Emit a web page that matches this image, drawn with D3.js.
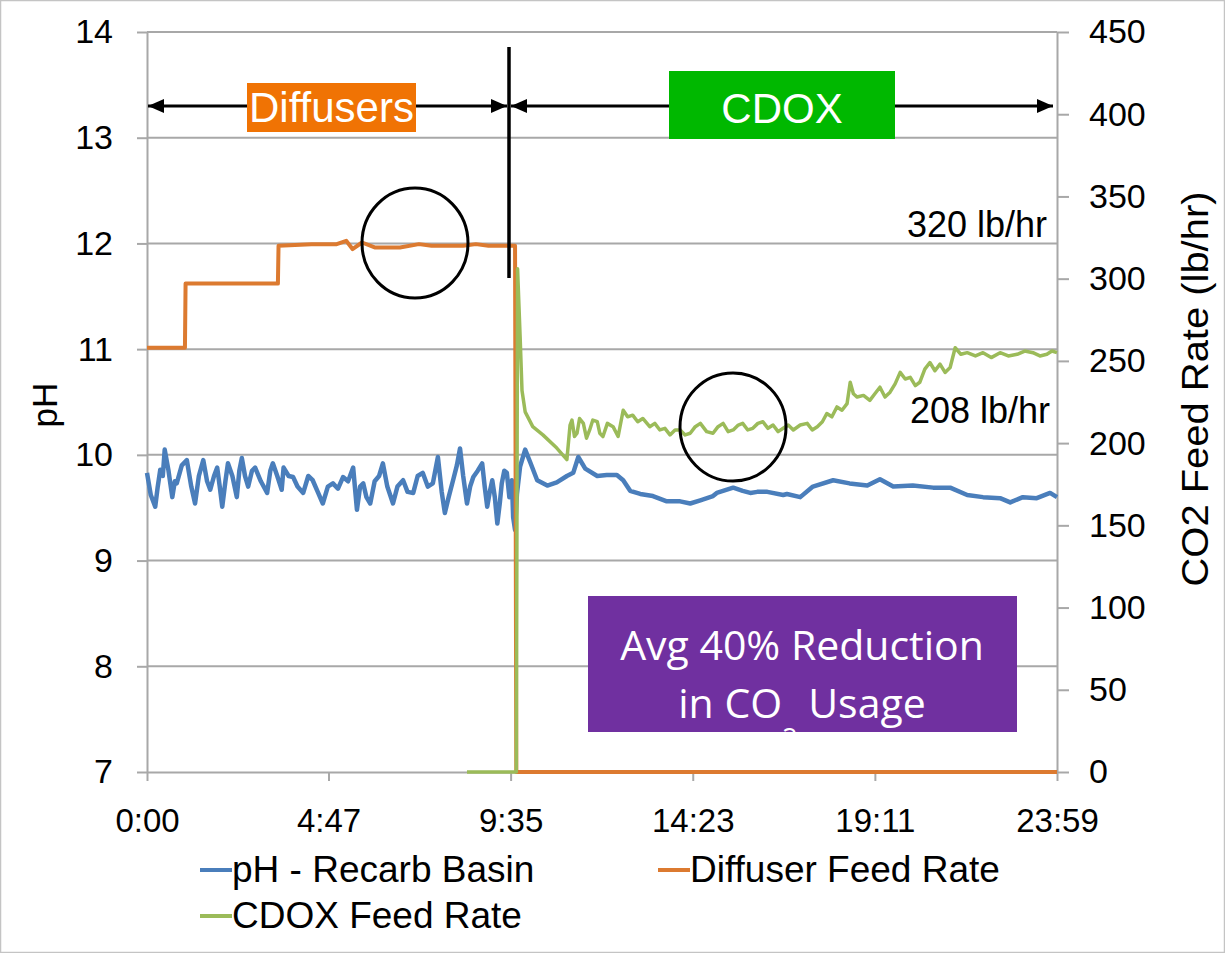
<!DOCTYPE html>
<html>
<head>
<meta charset="utf-8">
<script src="https://cdn.jsdelivr.net/npm/d3@7/dist/d3.min.js"></script>
<style>
  html, body { margin: 0; padding: 0; background: #fff; }
  svg { display: block; }
</style>
</head>
<body>
<script>
// time is minutes since midnight
const xTickLabels = ["0:00", "4:47", "9:35", "14:23", "19:11", "23:59"];
const phTicks = [7, 8, 9, 10, 11, 12, 13, 14];
const feedTicks = [0, 50, 100, 150, 200, 250, 300, 350, 400, 450];

const seriesNames = ["pH - Recarb Basin", "Diffuser Feed Rate", "CDOX Feed Rate"];

// pH - Recarb Basin (left axis)
const phSeries = [
  [0,9.83],[6,9.62],[13,9.51],[17,9.7],[21,9.86],[25,9.8],[28,10.05],[34,9.85],[40,9.6],[44,9.75],
  [47,9.73],[55,9.9],[63,9.95],[70,9.7],[76,9.54],[82,9.8],[89,9.95],[95,9.75],[100,9.67],[106,9.8],
  [111,9.88],[115,9.7],[119,9.51],[124,9.75],[128,9.92],[135,9.8],[142,9.6],[146,9.85],[150,9.97],[155,9.8],
  [160,9.7],[166,9.85],[171,9.88],[180,9.75],[190,9.64],[195,9.85],[199,9.92],[206,9.8],[213,9.67],[216,9.88],
  [224,9.8],[231,9.79],[238,9.7],[247,9.64],[255,9.8],[262,9.76],[270,9.65],[278,9.54],[286,9.7],[294,9.73],
  [302,9.68],[310,9.79],[318,9.75],[326,9.88],[332,9.48],[337,9.7],[342,9.73],[347,9.6],[353,9.54],[360,9.75],
  [367,9.8],[373,9.92],[380,9.7],[389,9.54],[396,9.7],[405,9.76],[412,9.65],[421,9.64],[428,9.8],[436,9.83],
  [444,9.7],[452,9.73],[460,9.98],[466,9.65],[471,9.45],[477,9.6],[484,9.76],[490,9.9],[495,10.06],[500,9.8],
  [506,9.54],[511,9.7],[516,9.79],[523,9.85],[530,9.92],[534,9.7],[538,9.51],[542,9.65],[546,9.76],[550,9.6],
  [554,9.35],[558,9.55],[561,9.73],[565,9.85],[569,9.83],[573,9.6],[577,9.76],[579,9.41],[582,9.29],[585,9.63],
  [590,9.89],[598,10.05],[606,9.93],[617,9.76],[633,9.71],[648,9.74],[664,9.8],[674,9.83],[682,9.98],[693,9.87],
  [712,9.8],[727,9.81],[743,9.81],[753,9.76],[764,9.66],[780,9.63],[800,9.61],[822,9.56],[843,9.56],[859,9.54],
  [875,9.57],[895,9.61],[901,9.64],[922,9.68],[927,9.69],[942,9.66],[954,9.64],[965,9.65],[981,9.65],[1006,9.62],
  [1012,9.63],[1033,9.6],[1053,9.7],[1085,9.76],[1111,9.73],[1139,9.71],[1159,9.77],[1180,9.7],[1211,9.71],[1243,9.69],
  [1270,9.69],[1297,9.62],[1322,9.6],[1349,9.59],[1365,9.55],[1385,9.6],[1407,9.59],[1428,9.64],[1439,9.6]
];

// Diffuser Feed Rate, lb/hr (right axis)
const diffuserSeries = [
  [0,258],[60,258],[61,297],[207,297],[208,320],[260,321],[300,321],[315,323],[325,318],[340,322],
  [360,319],[400,319],[430,321],[450,320],[500,320],[520,321],[540,320],[582,320],[584,0],[1439,0]
];

// CDOX Feed Rate, lb/hr (right axis)
const cdoxSeries = [
  [506,0],[584,0],[586,306],[590,265],[593,232],[598,219],[610,210],[626,205],[648,197],[664,190],
  [669,211],[672,214],[676,204],[680,206],[684,215],[690,212],[695,203],[700,208],[705,214],[712,213],
  [716,206],[721,204],[728,212],[737,210],[745,204],[753,220],[760,216],[768,217],[776,213],[784,215],
  [795,210],[803,212],[811,208],[819,209],[827,205],[835,208],[843,208],[851,205],[859,206],[867,210],
  [875,212],[885,207],[895,206],[903,210],[911,212],[919,207],[927,208],[935,211],[942,212],[950,208],
  [958,209],[966,212],[974,213],[982,209],[990,211],[998,207],[1006,209],[1014,211],[1022,208],[1033,211],
  [1044,212],[1052,208],[1060,210],[1068,213],[1075,218],[1083,216],[1091,222],[1099,220],[1107,224],[1112,237],
  [1117,230],[1123,228],[1133,229],[1143,226],[1151,230],[1159,234],[1167,228],[1175,231],[1183,236],[1191,243],
  [1199,239],[1207,240],[1215,235],[1222,237],[1230,245],[1238,249],[1246,244],[1254,248],[1262,243],[1270,246],
  [1278,258],[1287,254],[1297,255],[1310,253],[1322,255],[1335,252],[1349,255],[1362,253],[1376,254],[1388,256],
  [1401,255],[1412,253],[1423,254],[1431,256],[1439,255]
];

const W = 1225, H = 953;
const plot = { left: 147, right: 1057, top: 32, bottom: 772 };
const font = "'Liberation Sans', Arial, Helvetica, sans-serif";
const colors = { ph: "#4A7EBB", diffuser: "#DC7A30", cdox: "#9BBB59", grid: "#A8A8A8" };

const parseClock = s => { const p = s.split(":"); return +p[0] * 60 + +p[1]; };

const x = d3.scaleLinear().domain([0, 1439]).range([plot.left, plot.right]);
const yPh = d3.scaleLinear().domain([7, 14]).range([plot.bottom, plot.top]);
const yFeed = d3.scaleLinear().domain([0, 450]).range([plot.bottom, plot.top]);

const svg = d3.select("body").append("svg")
  .attr("width", W).attr("height", H)
  .attr("font-family", font);

svg.append("rect").attr("x", 0.5).attr("y", 0.5)
  .attr("width", W - 1).attr("height", H - 1)
  .attr("fill", "#fff").attr("stroke", "#C4C4C4").attr("stroke-width", 1.5);

const defs = svg.append("defs");
defs.append("marker")
  .attr("id", "head").attr("markerUnits", "userSpaceOnUse")
  .attr("viewBox", "0 0 16 14").attr("refX", 16).attr("refY", 7)
  .attr("markerWidth", 16).attr("markerHeight", 14).attr("orient", "auto-start-reverse")
  .append("path").attr("d", "M0,0L16,7L0,14Z").attr("fill", "#000");

// gridlines
svg.append("g").selectAll("line")
  .data(phTicks.slice(1))
  .join("line")
  .attr("x1", plot.left).attr("x2", plot.right)
  .attr("y1", d => yPh(d)).attr("y2", d => yPh(d))
  .attr("stroke", colors.grid).attr("stroke-width", 2);

function styleAxis(g, size) {
  g.select(".domain").attr("stroke", colors.grid).attr("stroke-width", 2);
  g.selectAll(".tick line").attr("stroke", colors.grid).attr("stroke-width", 2);
  g.selectAll(".tick text").attr("fill", "#000").attr("font-size", size).attr("font-family", font);
}

svg.append("g")
  .attr("transform", `translate(${plot.left},0)`)
  .call(d3.axisLeft(yPh).tickValues(phTicks).tickSize(10).tickPadding(24).tickSizeOuter(0).tickFormat(d3.format("d")))
  .call(g => styleAxis(g, 34));

svg.append("g")
  .attr("transform", `translate(${plot.right},0)`)
  .call(d3.axisRight(yFeed).tickValues(feedTicks).tickSize(12).tickPadding(20).tickSizeOuter(0))
  .call(g => styleAxis(g, 34));

svg.append("g")
  .attr("transform", `translate(0,${plot.bottom})`)
  .call(d3.axisBottom(x).tickValues(xTickLabels.map(parseClock)).tickSize(9).tickPadding(28).tickSizeOuter(0)
    .tickFormat((d, i) => xTickLabels[i]))
  .call(g => styleAxis(g, 33));

svg.append("text")
  .attr("transform", "translate(57,405) rotate(-90)")
  .attr("text-anchor", "middle").attr("font-size", 35).text("pH");

svg.append("text")
  .attr("transform", "translate(1208,389) rotate(-90)")
  .attr("text-anchor", "middle").attr("font-size", 36)
  .attr("textLength", 395).attr("lengthAdjust", "spacingAndGlyphs")
  .text("CO2 Feed Rate (lb/hr)");

// series
const linePh = d3.line().x(d => x(d[0])).y(d => yPh(d[1]));
const lineFeed = d3.line().x(d => x(d[0])).y(d => yFeed(d[1]));

svg.append("path").datum(phSeries)
  .attr("fill", "none").attr("stroke", colors.ph).attr("stroke-width", 4.5)
  .attr("stroke-linejoin", "round").attr("d", linePh);
svg.append("path").datum(diffuserSeries)
  .attr("fill", "none").attr("stroke", colors.diffuser).attr("stroke-width", 4)
  .attr("stroke-linejoin", "round").attr("d", lineFeed);
svg.append("path").datum(cdoxSeries)
  .attr("fill", "none").attr("stroke", colors.cdox).attr("stroke-width", 3.5)
  .attr("stroke-linejoin", "round").attr("d", lineFeed);

// legend
const legend = [
  { name: seriesNames[0], color: colors.ph, x: 200, y: 882 },
  { name: seriesNames[1], color: colors.diffuser, x: 658, y: 882 },
  { name: seriesNames[2], color: colors.cdox, x: 200, y: 928 }
];
const lg = svg.append("g").selectAll("g").data(legend).join("g")
  .attr("transform", d => `translate(${d.x},${d.y})`);
lg.append("line").attr("x1", 0).attr("x2", 32).attr("y1", -12).attr("y2", -12)
  .attr("stroke", d => d.color).attr("stroke-width", 4);
lg.append("text").attr("x", 32).attr("font-size", 37).attr("fill", "#000").text(d => d.name);

// annotations
const arrowY = 106;
svg.append("line").attr("x1", 148).attr("x2", 507).attr("y1", arrowY).attr("y2", arrowY)
  .attr("stroke", "#000").attr("stroke-width", 3)
  .attr("marker-start", "url(#head)").attr("marker-end", "url(#head)");
svg.append("line").attr("x1", 511).attr("x2", 1053).attr("y1", arrowY).attr("y2", arrowY)
  .attr("stroke", "#000").attr("stroke-width", 3)
  .attr("marker-start", "url(#head)").attr("marker-end", "url(#head)");
svg.append("line").attr("x1", 509).attr("x2", 509).attr("y1", 47).attr("y2", 278)
  .attr("stroke", "#000").attr("stroke-width", 3.5);

svg.append("rect").attr("x", 247).attr("y", 83).attr("width", 169).attr("height", 49).attr("fill", "#F07304");
svg.append("text").attr("x", 331.5).attr("y", 122).attr("text-anchor", "middle")
  .attr("font-size", 42).attr("fill", "#fff").text("Diffusers");

svg.append("rect").attr("x", 669).attr("y", 71).attr("width", 226).attr("height", 68).attr("fill", "#00B800");
svg.append("text").attr("x", 782).attr("y", 123).attr("text-anchor", "middle")
  .attr("font-size", 42).attr("fill", "#fff").text("CDOX");

svg.append("text").attr("x", 1047).attr("y", 237).attr("text-anchor", "end")
  .attr("font-size", 36).attr("fill", "#000").text("320 lb/hr");
svg.append("text").attr("x", 1050).attr("y", 423).attr("text-anchor", "end")
  .attr("font-size", 36).attr("fill", "#000").text("208 lb/hr");

svg.append("ellipse").attr("cx", 415).attr("cy", 243).attr("rx", 53).attr("ry", 55)
  .attr("fill", "none").attr("stroke", "#000").attr("stroke-width", 3);
svg.append("ellipse").attr("cx", 733).attr("cy", 427).attr("rx", 53).attr("ry", 54)
  .attr("fill", "none").attr("stroke", "#000").attr("stroke-width", 3);

svg.append("rect").attr("x", 588).attr("y", 596).attr("width", 429).attr("height", 136).attr("fill", "#7030A0");
const boxFont = "'Open Sans', Lato, sans-serif";
svg.append("text").attr("x", 802).attr("y", 660).attr("text-anchor", "middle")
  .attr("font-family", boxFont).attr("font-size", 41).attr("fill", "#fff").text("Avg 40% Reduction");
const t2 = svg.append("text").attr("x", 802).attr("y", 718).attr("text-anchor", "middle")
  .attr("font-family", boxFont).attr("font-size", 41).attr("fill", "#fff");
t2.append("tspan").text("in CO");
t2.append("tspan").attr("dy", 30).attr("font-size", 27).text("2");
t2.append("tspan").attr("dy", -30).text(" Usage");
</script>
</body>
</html>
